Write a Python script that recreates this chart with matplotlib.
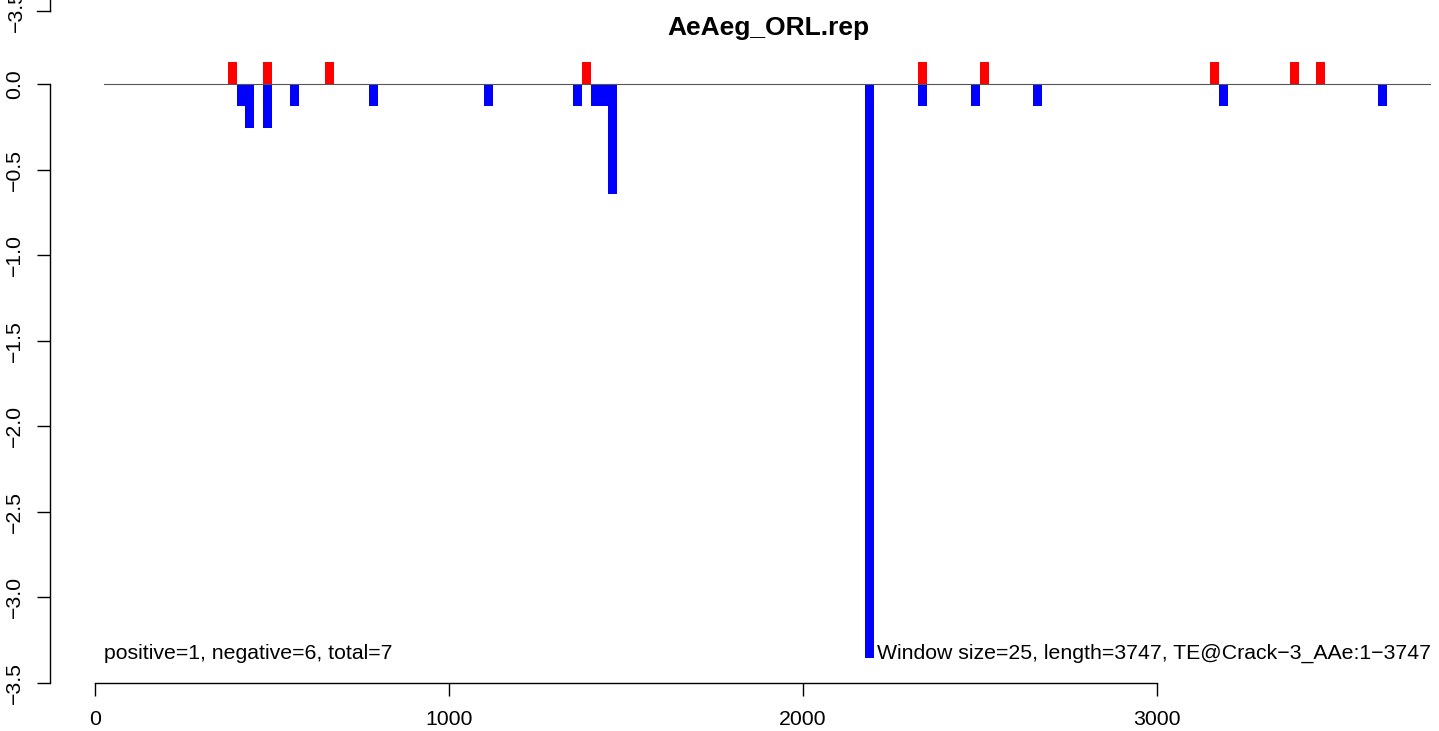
import matplotlib
matplotlib.use("Agg")
import matplotlib.pyplot as plt

plt.rcParams['font.family'] = ['Liberation Sans', 'DejaVu Sans']

title = "AeAeg_ORL.rep"
window = 25
pos_x = [375, 475, 650, 1375, 2325, 2500, 3150, 3375, 3450]
pos_h = [0.129] * 9
neg_x = [400, 425, 475, 550, 775, 1100, 1350, 1400, 1425, 1450, 2175, 2325, 2475, 2650, 3175, 3625]
neg_h = [-0.129, -0.258, -0.258, -0.129, -0.129, -0.129, -0.129, -0.129, -0.129,
         -0.645, -3.354, -0.129, -0.129, -0.129, -0.129, -0.129]
yticks = [-3.5, -3.0, -2.5, -2.0, -1.5, -1.0, -0.5, 0.0]
xticks = [0, 1000, 2000, 3000]
left_note = "positive=1, negative=6, total=7"
right_note = "Window size=25, length=3747, TE@Crack\u22123_AAe:1\u22123747"

W, H = 1439, 731
fig = plt.figure(figsize=(W / 100, H / 100), dpi=100)
# pixel mapping: x px = 95 + 0.354*x ; y px = 84 - 171.14*y
sx, x0 = 0.354, 95.0
sy, y0 = 171.14, 84.0
def dx(px): return (px - x0) / sx
def dy(py): return (y0 - py) / sy

left_px, bot_px = 50, 683
ax = fig.add_axes([left_px / W, (H - bot_px) / H, (W - left_px) / W, bot_px / H])
ax.set_xlim(dx(left_px), dx(W))
ax.set_ylim(dy(bot_px), dy(0))

ax.bar(pos_x, pos_h, width=window, align='edge', color='#FF0000', linewidth=0)
ax.bar(neg_x, neg_h, width=window, align='edge', color='#0000FF', linewidth=0)
ax.plot([25, 3772], [0, 0], color='#555555', lw=0.8, zorder=3)

for s in ['top', 'right']:
    ax.spines[s].set_visible(False)
ax.spines['left'].set_bounds(-3.5, 0)
ax.spines['bottom'].set_bounds(0, 3000)
for s in ['left', 'bottom']:
    ax.spines[s].set_linewidth(1.0)
ax.set_yticks(yticks)
ax.set_yticklabels([f"{v:.1f}".replace('-', '\u2212') for v in yticks],
                   rotation=90, va='center')
ax.set_xticks(xticks)
ax.set_xticklabels([str(v) for v in xticks])
ax.tick_params(axis='both', direction='out', length=9.4, width=1.0,
               labelsize=15.3, colors='black')
ax.tick_params(axis='y', pad=9)
ax.tick_params(axis='x', pad=10)

# extra stray axis fragment at top-left
xl = dx(left_px)
ax.plot([xl, xl], [dy(11), dy(0)], color='black', lw=1.0, clip_on=False)
ax.plot([dx(37), xl], [dy(11), dy(11)], color='black', lw=1.0, clip_on=False)
ax.text(dx(16), dy(11), "\u22123.5", rotation=90, ha='center', va='center',
        fontsize=15.3, clip_on=False)

ax.text(dx(104), -3.36, left_note, ha='left', va='baseline', fontsize=15.3)
ax.text(dx(877), -3.36, right_note, ha='left', va='baseline', fontsize=15.3)

fig.text(768 / W, 1 - 28 / H, title, ha='center', va='center',
         fontsize=19, fontweight='bold')

fig.savefig("out.png", dpi=100, facecolor='white')
